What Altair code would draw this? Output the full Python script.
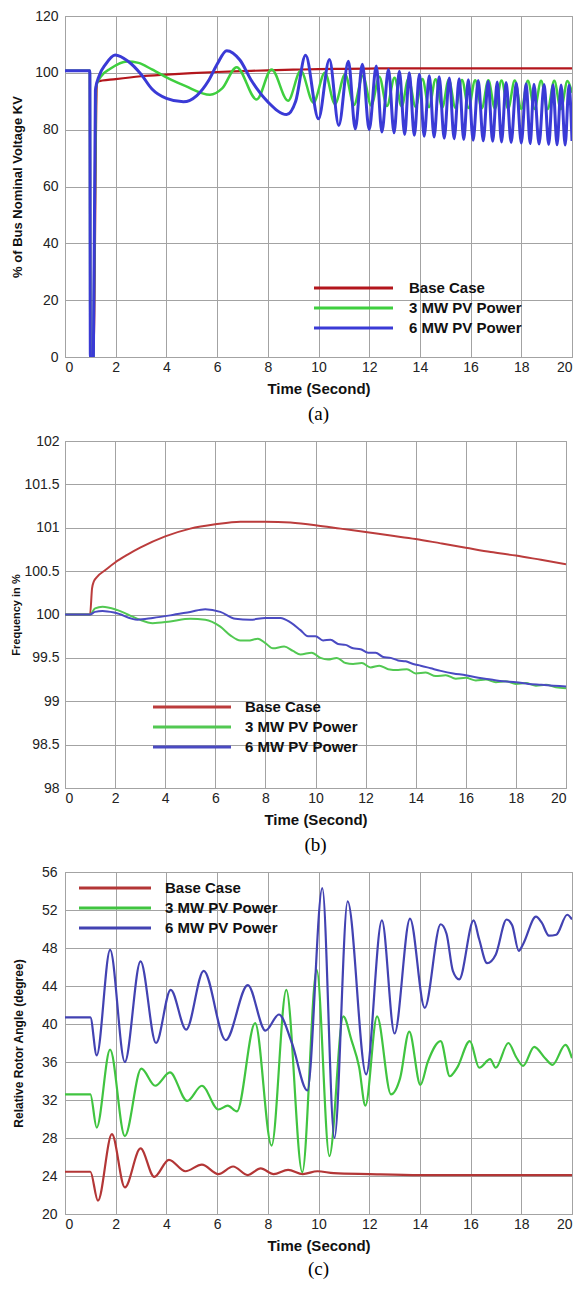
import altair as alt
import pandas as pd

SERIES = ["Base Case", "3 MW PV Power", "6 MW PV Power"]
TIME_TICKS = [0, 2, 4, 6, 8, 10, 12, 14, 16, 18, 20]

# ---------------- Panel (a): % of bus nominal voltage ----------------
A_Y_TICKS = [0, 20, 40, 60, 80, 100, 120]
a_base_t = [0, 0.98, 1.0, 1.12, 1.26, 2.0, 3.0, 4.0, 5.0, 6.0, 7.0, 8.0, 9.0, 10.0,
            11.0, 12.0, 13.0, 14.0, 16.0, 18.0, 20.0]
a_base_v = [100.7, 100.7, 0, 0, 96.9, 97.8, 98.8, 99.4, 99.9, 100.3, 100.6, 100.9, 101.1,
            101.3, 101.4, 101.5, 101.6, 101.6, 101.6, 101.6, 101.6]
a_3mw_t = [0, 0.98, 1.0, 1.12, 1.22, 1.4, 1.8, 2.45, 2.9, 3.43, 4.2, 4.74, 5.72, 6.2, 6.77,
           7.56, 8.15, 8.8, 9.3, 9.8, 10.25, 10.65, 11.05, 11.4, 11.75, 12.08, 12.4, 12.7,
           13.0, 13.28, 13.55, 13.83, 14.1, 14.36, 14.62, 14.88, 15.14, 15.4, 15.66, 15.92,
           16.18, 16.44, 16.7, 16.96, 17.22, 17.48, 17.74, 18.0, 18.26, 18.52, 18.78, 19.04,
           19.3, 19.56, 19.82, 20.0]
a_3mw_v = [100.7, 100.7, 0, 0, 95.0, 98.5, 101.5, 104.0, 103.5, 101.2, 97.5, 95.4, 92.3, 94.5,
           102.0, 90.6, 101.2, 90.2, 100.7, 89.5, 100.0, 89.0, 99.5, 88.7, 99.0, 88.5, 98.6,
           88.3, 98.3, 88.2, 98.0, 88.0, 97.8, 87.9, 97.7, 87.8, 97.6, 87.7, 97.5, 87.6, 97.4,
           87.5, 97.4, 87.4, 97.3, 87.4, 97.3, 87.3, 97.2, 87.3, 97.2, 87.2, 97.2, 87.2, 97.1,
           93.0]
a_6mw_t = [0, 0.98, 1.0, 1.12, 1.2, 1.35, 1.6, 1.98, 2.5, 3.0, 3.43, 4.0, 4.67, 5.2, 5.66,
           6.0, 6.38, 6.9, 7.36, 8.02, 8.74, 9.1, 9.49, 10.0, 10.43, 10.8, 11.18, 11.45,
           11.73, 12.0, 12.28, 12.5, 12.76, 12.98, 13.19, 13.4, 13.58, 13.78, 13.98, 14.17,
           14.37, 14.56, 14.76, 14.96, 15.16, 15.35, 15.55, 15.73, 15.91, 16.1, 16.3, 16.5,
           16.69, 16.87, 17.05, 17.22, 17.4, 17.6, 17.8, 18.0, 18.19, 18.35, 18.5, 18.7, 18.9,
           19.08, 19.25, 19.41, 19.57, 19.73, 19.88, 20.0]
a_6mw_v = [100.7, 100.7, 0, 0, 94.0, 99.0, 103.0, 106.3, 104.0, 99.5, 94.3, 91.0, 89.8, 92.0,
           97.2, 103.0, 107.8, 104.5, 97.2, 89.6, 85.3, 90.0, 106.2, 83.8, 104.7, 81.5, 104.1,
           80.3, 103.0, 80.0, 102.4, 79.2, 101.2, 78.9, 100.6, 78.3, 100.0, 78.0, 99.5, 77.7,
           99.0, 77.4, 98.6, 77.0, 98.2, 76.8, 97.9, 76.5, 97.6, 76.3, 97.3, 76.1, 97.0, 75.9,
           96.8, 75.7, 96.6, 75.5, 96.4, 75.3, 96.2, 75.1, 96.0, 75.0, 95.9, 74.8, 95.8, 74.7,
           95.7, 74.6, 95.6, 76.0]

# ---------------- Panel (b): frequency in % ----------------
B_Y_TICKS = [98, 98.5, 99, 99.5, 100, 100.5, 101, 101.5, 102]
b_base_t = [0, 1.0, 1.08, 1.15, 1.3, 1.6, 2.0, 2.5, 3.0, 4.0, 5.0, 6.0, 7.0, 8.0, 9.0, 10.0,
            11.0, 12.0, 13.0, 14.0, 15.0, 16.0, 17.0, 18.0, 19.0, 20.0]
b_base_v = [100, 100, 100.3, 100.38, 100.44, 100.51, 100.6, 100.69, 100.77, 100.9, 100.99,
            101.04, 101.07, 101.07, 101.06, 101.03, 100.99, 100.95, 100.91, 100.87, 100.82,
            100.77, 100.72, 100.68, 100.63, 100.58]
b_3mw_t = [0, 1.0, 1.2, 1.5, 2.1, 2.9, 3.5, 4.2, 5.0, 5.6, 6.2, 6.6, 7.0, 7.3, 7.7, 8.0, 8.3,
           8.75, 9.1, 9.4, 9.85, 10.2, 10.5, 10.85, 11.2, 11.5, 11.85, 12.2, 12.55, 12.9,
           13.3, 13.65, 14.0, 14.4, 14.8, 15.2, 15.6, 16.0, 16.4, 16.8, 17.2, 17.6, 18.0,
           18.4, 18.8, 19.2, 19.6, 20.0]
b_3mw_v = [100, 100, 100.07, 100.09, 100.05, 99.95, 99.9, 99.92, 99.95, 99.94, 99.86, 99.76,
           99.7, 99.7, 99.72, 99.67, 99.61, 99.63, 99.58, 99.54, 99.56, 99.5, 99.48, 99.5,
           99.44, 99.43, 99.44, 99.39, 99.41, 99.37, 99.36, 99.37, 99.32, 99.33, 99.29, 99.3,
           99.26, 99.27, 99.24, 99.25, 99.22, 99.23, 99.2, 99.21, 99.18, 99.19, 99.16, 99.15]
b_6mw_t = [0, 1.0, 1.2, 1.5, 2.0, 2.9, 3.5, 4.2, 5.0, 5.6, 6.2, 6.8, 7.4, 8.0, 8.6, 9.0, 9.4,
           9.7, 10.0, 10.3, 10.6, 10.9, 11.2, 11.5, 11.8, 12.1, 12.4, 12.7, 13.0, 13.3, 13.6,
           13.9, 14.2, 14.6, 15.0, 15.5, 16.0, 16.5, 17.0, 17.5, 18.0, 18.5, 19.0, 19.5, 20.0]
b_6mw_v = [100, 100, 100.03, 100.04, 100.02, 99.94, 99.96, 99.99, 100.03, 100.06, 100.03,
           99.95, 99.94, 99.96, 99.96, 99.91, 99.82, 99.75, 99.75, 99.7, 99.71, 99.66, 99.65,
           99.61, 99.6, 99.56, 99.56, 99.51, 99.5, 99.47, 99.46, 99.43, 99.41, 99.38, 99.35,
           99.32, 99.3, 99.27, 99.25, 99.23, 99.22, 99.2, 99.19, 99.18, 99.17]

# ---------------- Panel (c): relative rotor angle ----------------
C_Y_TICKS = [20, 24, 28, 32, 36, 40, 44, 48, 52, 56]
c_base_t = [0, 1.0, 1.3, 1.85, 2.36, 2.98, 3.52, 4.1, 4.75, 5.4, 6.05, 6.63, 7.21, 7.72, 8.23,
            8.8, 9.38, 9.96, 10.6, 12.0, 14.0, 16.0, 18.0, 20.0]
c_base_v = [24.45, 24.45, 21.4, 28.4, 22.8, 26.9, 23.9, 25.7, 24.5, 25.2, 24.2, 25.0, 24.1,
            24.8, 24.2, 24.65, 24.2, 24.5, 24.3, 24.2, 24.1, 24.1, 24.1, 24.1]
c_3mw_t = [0, 1.0, 1.25, 1.78, 2.36, 3.01, 3.56, 4.14, 4.82, 5.4, 6.05, 6.42, 6.78, 7.5, 8.15,
           8.73, 9.36, 9.93, 10.43, 10.98, 11.3, 11.6, 11.85, 12.31, 12.86, 13.22, 13.58,
           14.02, 14.31, 14.82, 15.18, 15.47, 15.97, 16.34, 16.77, 16.99, 17.49, 17.8, 18.07,
           18.51, 18.94, 19.23, 19.74, 20.0]
c_3mw_v = [32.6, 32.6, 29.1, 37.3, 28.2, 35.3, 33.5, 34.9, 31.9, 33.5, 31.0, 31.4, 30.8, 40.1,
           27.2, 43.6, 24.4, 45.7, 26.1, 40.8, 38.3, 35.5, 31.4, 40.8, 32.6, 34.3, 39.2, 33.6,
           36.0, 38.2, 34.5, 35.4, 38.2, 35.4, 36.3, 35.4, 38.0, 36.5, 35.6, 37.6, 36.4, 35.7,
           37.8, 36.4]
c_6mw_t = [0, 1.0, 1.25, 1.78, 2.36, 2.98, 3.59, 4.17, 4.78, 5.47, 6.34, 7.21, 7.91, 8.44,
           8.95, 9.56, 10.15, 10.63, 11.15, 11.88, 12.5, 13.0, 13.61, 14.19, 14.82, 15.05,
           15.3, 15.55, 16.12, 16.33, 16.65, 16.99, 17.42, 17.64, 17.9, 18.07, 18.58, 18.8,
           19.09, 19.38, 19.81, 20.0]
c_6mw_v = [40.7, 40.7, 36.7, 47.8, 36.0, 46.6, 38.0, 43.6, 39.4, 45.6, 38.3, 44.1, 39.3, 41.0,
           38.0, 33.0, 54.3, 28.0, 52.9, 34.7, 50.9, 39.0, 51.1, 41.7, 50.5, 49.5, 45.6, 44.7,
           50.9, 49.0, 46.4, 47.3, 51.0, 50.4, 47.7, 48.4, 51.3, 50.7, 49.3, 49.4, 51.5, 51.0]

FONT = "Liberation Sans"
SERIF = "Liberation Serif"
PLAIN_LABEL = "datum.value + ''"


def build_panel(series, colors, widths, y_domain, y_ticks, y_title, y_title_size,
                y_title_pad, y_label_pad, w, h, legend, caption, caption_offset):
    x_enc = alt.X("t:Q", scale=alt.Scale(domain=[0, 20], nice=False, zero=False),
                  axis=alt.Axis(values=TIME_TICKS, title="Time (Second)", titleFontSize=15,
                                titlePadding=7, labelPadding=3, labelExpr=PLAIN_LABEL))
    y_enc = alt.Y("v:Q", scale=alt.Scale(domain=y_domain, nice=False, zero=False),
                  axis=alt.Axis(values=y_ticks, title=y_title, titleFontSize=y_title_size,
                                titlePadding=y_title_pad, labelPadding=y_label_pad,
                                labelExpr=PLAIN_LABEL))
    layers = []
    for (t, v), c, sw in zip(series, colors, widths):
        df = pd.DataFrame({"t": t, "v": v})
        layers.append(
            alt.Chart(df).mark_line(color=c, strokeWidth=sw, interpolate="monotone", clip=True)
            .encode(x=x_enc, y=y_enc)
        )
    x0, x1, tx, y0, dy = legend
    for i, name in enumerate(SERIES):
        ldf = pd.DataFrame({"label": [name]})
        yy = y0 + i * dy
        layers.append(
            alt.Chart(ldf).mark_rule(color=colors[i], strokeWidth=3)
            .encode(x=alt.value(x0), x2=alt.value(x1), y=alt.value(yy))
        )
        layers.append(
            alt.Chart(ldf).mark_text(align="left", baseline="middle", font=FONT, fontSize=15,
                                     fontWeight="bold", color="#111")
            .encode(x=alt.value(tx), y=alt.value(yy), text="label:N")
        )
    return alt.layer(*layers).properties(
        width=w, height=h,
        title=alt.TitleParams(text=caption, orient="bottom", anchor="middle", font=SERIF,
                              fontSize=19, fontWeight="normal", color="#000",
                              offset=caption_offset),
    )


pa = build_panel(
    [(a_base_t, a_base_v), (a_3mw_t, a_3mw_v), (a_6mw_t, a_6mw_v)],
    ["#b3161c", "#3fcf3f", "#3a3ad6"], [2.2, 2.5, 3.0],
    [0, 120], A_Y_TICKS, "% of Bus Nominal Voltage KV", 13, 10, 7,
    507, 341, (249, 328, 344, 272, 20), "(a)", 9,
)
pb = build_panel(
    [(b_base_t, b_base_v), (b_3mw_t, b_3mw_v), (b_6mw_t, b_6mw_v)],
    ["#bb3c3c", "#52c852", "#4a4ac2"], [2.0, 2.0, 2.0],
    [98, 102], B_Y_TICKS, "Frequency in %", 11, 2, 6,
    501, 347, (88, 166, 180, 266, 20), "(b)", 9,
)
pc = build_panel(
    [(c_base_t, c_base_v), (c_3mw_t, c_3mw_v), (c_6mw_t, c_6mw_v)],
    ["#b33636", "#40c440", "#4242b2"], [2.2, 2.2, 2.2],
    [20, 56], C_Y_TICKS, "Relative Rotor Angle (degree)", 12, 16, 8,
    507, 342, (14, 86, 100, 16, 20), "(c)", 7,
)

chart = (
    alt.vconcat(pa, pb, pc, spacing=8)
    .properties(padding={"left": 2, "top": 0, "right": 0, "bottom": 0})
    .configure_view(stroke="#999999", strokeWidth=1)
    .configure_axis(grid=True, gridColor="#a3a3a3", gridWidth=1, domain=False, ticks=False,
                    labelFont=FONT, labelFontSize=14, labelColor="#222222",
                    titleFont=FONT, titleFontWeight="bold", titleColor="#111111")
)

chart.save("out.html", embed_options={"renderer": "svg", "actions": False})
